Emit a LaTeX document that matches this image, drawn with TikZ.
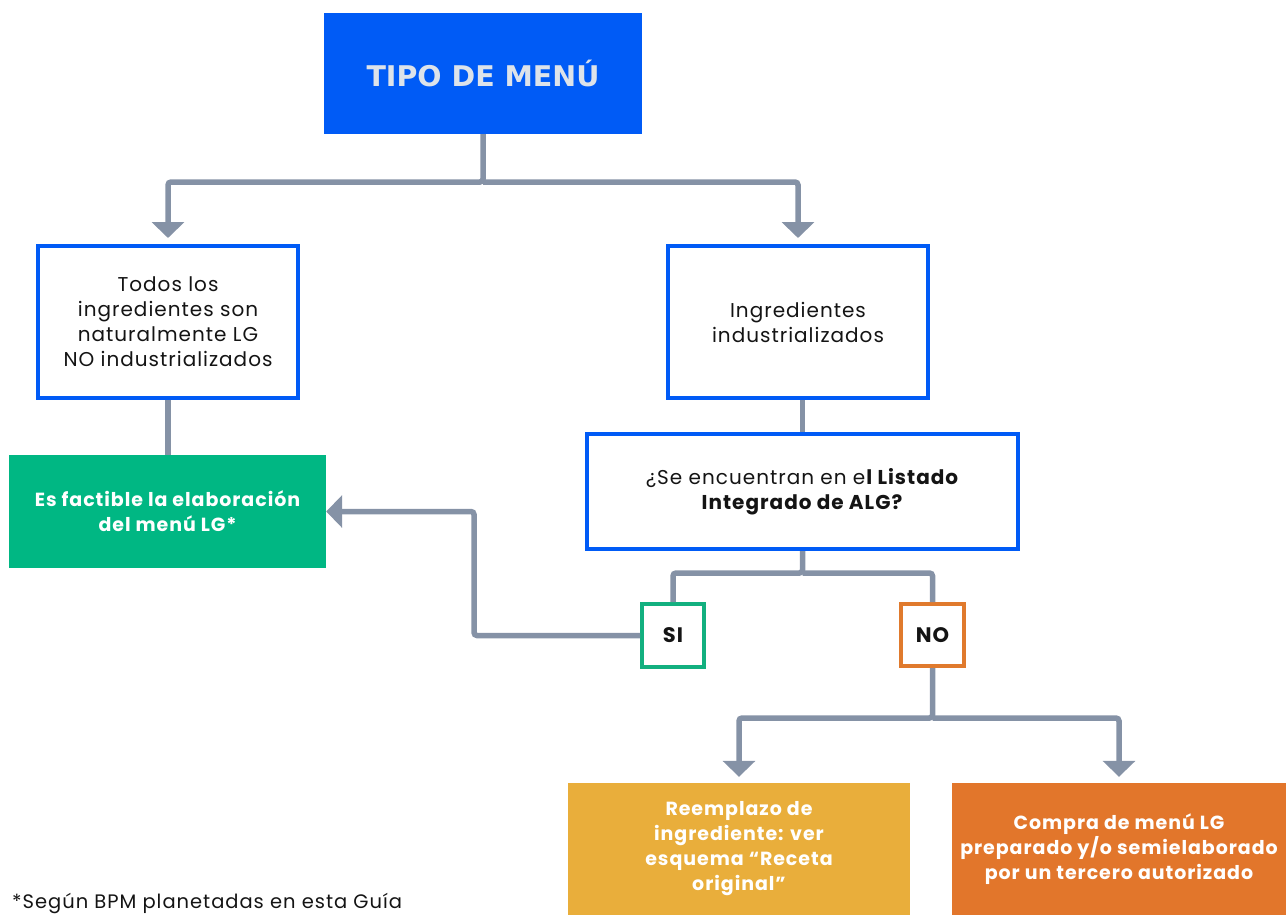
\documentclass[tikz,border=0pt]{standalone}
\usepackage{fontspec}
\setmainfont{Poppins}[LetterSpace=5]
\newfontfamily\titlefont{DejaVu Sans}
\usetikzlibrary{arrows.meta}
\definecolor{menublue}{HTML}{005BF6}
\definecolor{titlegray}{HTML}{DDE3EA}
\definecolor{linkgray}{HTML}{8592A6}
\definecolor{lggreen}{HTML}{00B783}
\definecolor{sigreen}{HTML}{12B07F}
\definecolor{noorange}{HTML}{E07A2D}
\definecolor{recetayellow}{HTML}{E9AE3B}
\definecolor{compraorange}{HTML}{E2762B}
\definecolor{textblack}{HTML}{141414}

\begin{document}
\begin{tikzpicture}[x=1pt, y=-1pt, >={Triangle[length=16pt,width=32pt]},
                    conn/.style={draw=linkgray, line width=5.5pt, rounded corners=3pt},
                    outline/.style={draw=menublue, line width=4pt, fill=white, inner sep=0pt,
                                    align=center, text=textblack, font=\fontsize{20}{25}\selectfont},
                    filled/.style={inner sep=0pt, align=center, text=white,
                                   font=\bfseries\fontsize{19}{25}\selectfont},
                    answer/.style={line width=4pt, fill=white, inner sep=0pt, text=textblack,
                                   font=\bfseries\fontsize{21}{25}\selectfont}]

    \useasboundingbox (0,0) rectangle (1287,916);

    \node[fill=menublue, minimum width=318pt, minimum height=121pt, text=titlegray,
          font=\titlefont\bfseries\fontsize{28.5}{34}\selectfont] (tipo) at (483,73.5) {TIPO DE MENÚ};

    \node[outline, minimum width=260pt, minimum height=152pt] (todos) at (168,322)
        {Todos los\\ ingredientes son\\ naturalmente LG\\ NO industrializados};
    \node[outline, minimum width=260pt, minimum height=152pt] (industrial) at (798,322)
        {Ingredientes\\ industrializados};
    \node[outline, minimum width=431pt, minimum height=115pt] (pregunta) at (802.5,491.5)
        {¿Se encuentran en e\textbf{l Listado}\\ \textbf{Integrado de ALG?}};

    \node[filled, fill=lggreen, minimum width=317pt, minimum height=113pt] (factible) at (167.5,511.5)
        {Es factible la elaboración\\ del menú LG*};

    \node[answer, draw=sigreen, minimum width=62pt, minimum height=63pt] (si) at (673,635.5) {SI};
    \node[answer, draw=noorange, minimum width=63pt, minimum height=62pt] (no) at (932.5,635) {NO};

    \node[filled, fill=recetayellow, minimum width=342pt, minimum height=132pt] (reemplazo) at (739,849)
        {Reemplazo de\\ ingrediente: ver\\ esquema “Receta\\ original”};
    \node[filled, fill=compraorange, minimum width=334pt, minimum height=132pt] (compra) at (1119,849)
        {Compra de menú LG\\ preparado y/o semielaborado\\ por un tercero autorizado};

    \node[anchor=west, inner sep=0pt, text=textblack, font=\fontsize{19.5}{23}\selectfont] (nota) at (12,903)
        {*Según BPM planetadas en esta Guía};

    \coordinate (split1) at (483,182);
    \coordinate (split3) at (802.5,573);
    \coordinate (siturn) at (474,635.5);
    \coordinate (split4) at (932.5,718);

    \draw[conn, ->, shorten >=6pt] (tipo.south) -- (split1) -| (todos.north);
    \draw[conn, ->, shorten >=6pt] (split1) -| (industrial.north);
    \draw[conn] (todos.south) -- (todos.south |- factible.north);
    \draw[conn] (pregunta.north |- industrial.south) -- (pregunta.north);
    \draw[conn] (pregunta.south) -- (split3) -| (si.north);
    \draw[conn] (split3) -| (no.north);
    \draw[conn, ->] (si.west) -- (siturn) |- (factible.east);
    \draw[conn, ->, shorten >=6pt] (no.south) -- (split4) -| (reemplazo.north);
    \draw[conn, ->, shorten >=6pt] (split4) -| (compra.north);
\end{tikzpicture}
\end{document}
